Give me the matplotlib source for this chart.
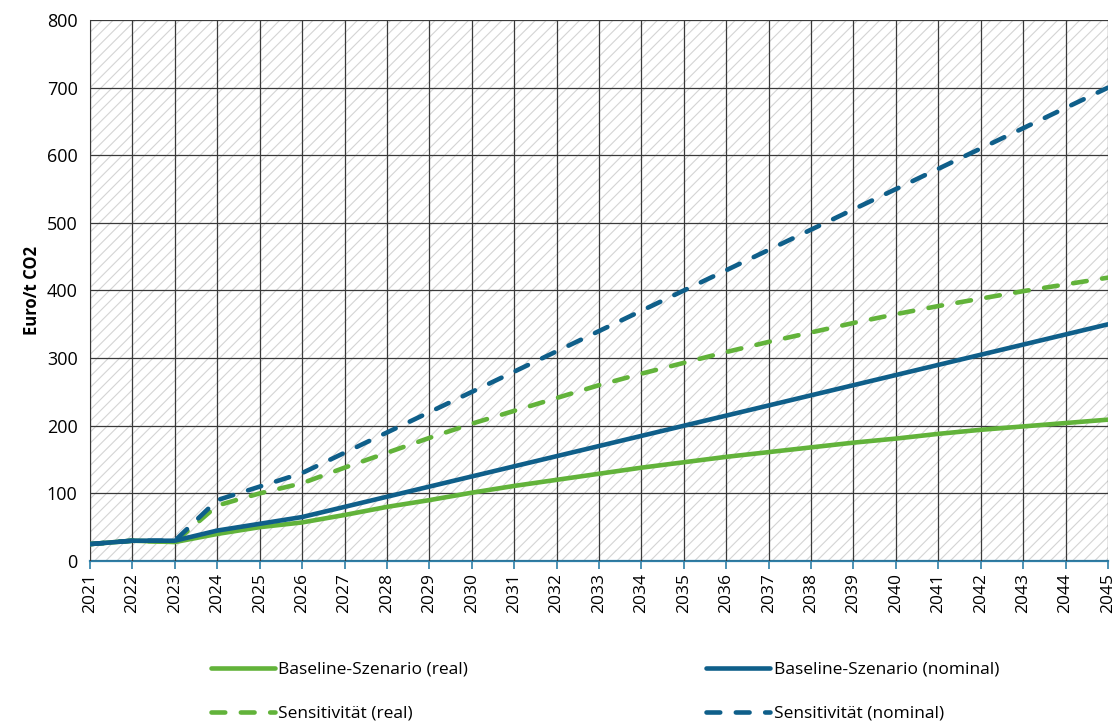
import numpy as np
import matplotlib
matplotlib.use("Agg")
import matplotlib.pyplot as plt
from matplotlib.patches import Rectangle

plt.rcParams['font.family'] = ['Open Sans', 'DejaVu Sans']
plt.rcParams['hatch.linewidth'] = 0.8
plt.rcParams['hatch.color'] = '#d4d4d4'

# CO2 price paths, Euro per tonne
years = list(range(2021, 2046))
baseline_real = [25, 30, 28, 40, 50, 57, 68, 80, 90, 101, 111, 120, 129, 138, 146,
                 154, 161, 168, 175, 181, 188, 194, 199, 204, 209]
baseline_nominal = [25, 30, 30, 45, 55, 65, 80, 95, 110, 125, 140, 155, 170, 185, 200,
                    215, 230, 245, 260, 275, 290, 305, 320, 335, 350]
sens_real = [25, 30, 28, 82, 100, 115, 138, 160, 182, 203, 222, 241, 260, 277, 293,
             309, 324, 338, 352, 365, 377, 388, 399, 409, 419]
sens_nominal = [25, 30, 30, 90, 110, 130, 160, 190, 220, 250, 280, 310, 340, 370, 400,
                430, 460, 490, 520, 550, 580, 610, 640, 670, 700]

green = '#62b33a'
blue = '#0f5f8a'

fig = plt.figure(figsize=(11.14, 7.22), dpi=100)
ax = fig.add_axes([0.0808, 0.223, 0.9138, 0.7493])

# hatched plot background
ax.add_patch(Rectangle((0, 0), 1, 1, transform=ax.transAxes, facecolor='white',
                       edgecolor='#d4d4d4', hatch='///', linewidth=0, zorder=0))

lw = 3.3
l1, = ax.plot(years, baseline_real, color=green, lw=lw, solid_capstyle='round', zorder=3)
l2, = ax.plot(years, baseline_nominal, color=blue, lw=lw, solid_capstyle='round', zorder=4)
l3, = ax.plot(years, sens_real, color=green, lw=lw, dashes=(3.0, 3.4),
              dash_capstyle='round', zorder=3)
l4, = ax.plot(years, sens_nominal, color=blue, lw=lw, dashes=(3.0, 3.4),
              dash_capstyle='round', zorder=4)

ax.set_xlim(2021, 2045)
ax.set_ylim(0, 800)
ax.set_xticks(years)
ax.set_xticklabels([str(y) for y in years], rotation=90, fontsize=12.5)
ax.set_yticks(range(0, 801, 100))
ax.tick_params(axis='y', length=0, labelsize=13, pad=9)
ax.tick_params(axis='x', length=6, width=1.2, color='#2e7fa8', pad=3)

ax.grid(True, color='#3a3a3a', linewidth=0.9, zorder=1)
ax.set_axisbelow(False)
for s in ['top', 'right']:
    ax.spines[s].set_visible(False)
ax.spines['left'].set_color('#888888')
ax.spines['bottom'].set_color('#2e7fa8')
ax.spines['bottom'].set_linewidth(1.6)

ax.set_ylabel('Euro/t CO2', fontsize=12, fontweight='bold', labelpad=4)

fig.legend([l1, l3, l2, l4],
           ['Baseline-Szenario (real)', 'Sensitivität (real)',
            'Baseline-Szenario (nominal)', 'Sensitivität (nominal)'],
           ncol=2, loc='center', bbox_to_anchor=(0.543, 0.042), frameon=False,
           fontsize=12.5, handlelength=3.7, handletextpad=0.2,
           columnspacing=13.7, labelspacing=1.6)

fig.savefig('out.png', dpi=100)
